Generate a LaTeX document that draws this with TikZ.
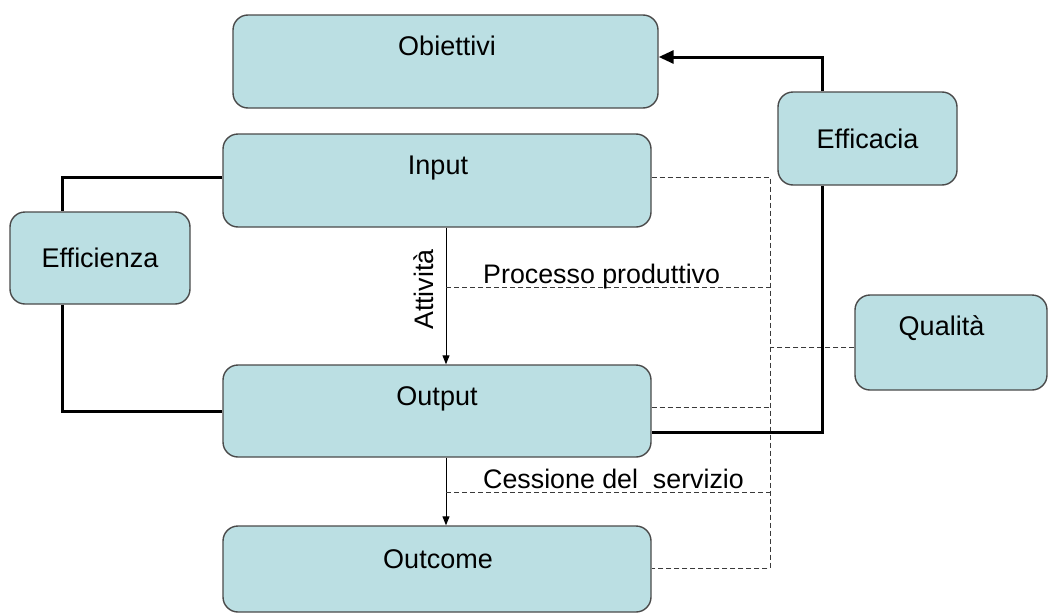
\documentclass[tikz,border=0pt]{standalone}
\usepackage{fontspec}
\setmainfont{Liberation Sans}
\usetikzlibrary{arrows.meta,calc}

\definecolor{boxfill}{HTML}{BBDFE3}
\definecolor{boxline}{HTML}{4A4A4A}
\definecolor{dashline}{HTML}{3A3A3A}

\tikzset{
  box/.style={draw=boxline, fill=boxfill, line width=1.4pt, rounded corners=15pt,
              inner sep=0pt, rectangle},
  txt/.style={font=\fontsize{27}{31}\selectfont, inner sep=0pt, anchor=base},
  smalltxt/.style={font=\fontsize{26.8}{31}\selectfont, inner sep=0pt, anchor=base west},
  strong/.style={line width=3pt, black},
  thin/.style={line width=1pt, black, -{Triangle[length=9pt,width=7pt]}},
  dsh/.style={line width=1pt, dashline, dash pattern=on 5pt off 3pt}
}

\begin{document}
\begin{tikzpicture}[x=1pt,y=-1pt]
\useasboundingbox (0,0) rectangle (1049,613);

% boxes
\node[box, minimum width=425pt, minimum height=93pt] (obj)  at (445.5,61.5)  {};
\node[box, minimum width=428pt, minimum height=93pt] (inp)  at (437,180.5)   {};
\node[box, minimum width=428pt, minimum height=92pt] (outp) at (437,411)     {};
\node[box, minimum width=428pt, minimum height=86pt] (outc) at (437,569)     {};
\node[box, minimum width=180pt, minimum height=92pt] (effz) at (100,258)     {};
\node[box, minimum width=179pt, minimum height=93pt] (effc) at (867.5,138.5) {};
\node[box, minimum width=192pt, minimum height=95pt] (qual) at (951,342.5)   {};

% box captions
\node[txt] (objT)  at (447,55)    {Obiettivi};
\node[txt] (inpT)  at (438,174)   {Input};
\node[txt] (outpT) at (437,405)   {Output};
\node[txt] (outcT) at (438,568)   {Outcome};
\node[txt] (effzT) at (100,267)   {Efficienza};
\node[txt] (effcT) at (867.5,148) {Efficacia};
\node[txt] (qualT) at (941.5,335) {Qualità};

% dashed bus on the right
\coordinate (busTop) at (770,177);
\coordinate (busBot) at (770,568);
\coordinate (procL)  at (446,287);
\coordinate (cessL)  at (446,492);

% thin flow arrows
\draw[thin] ([xshift=9pt]inp.south) -- ([xshift=9pt]outp.north);
\draw[thin] ([xshift=9pt]outp.south) -- ([xshift=9pt]outc.north);

% dashed connectors
\draw[dsh] ([yshift=3.5pt]inp.east) -- (busTop) -- (busBot) -- ([yshift=1pt]outc.east);
\draw[dsh] (procL) -- (procL -| busTop);
\draw[dsh] ([yshift=4pt]outp.east) -- ([yshift=4pt]outp.east -| busTop);
\draw[dsh] (cessL) -- (cessL -| busTop);
\draw[dsh] ([yshift=-4.5pt]qual.west) -- ([yshift=-4.5pt]qual.west -| busTop);

% thick connectors
\draw[strong] ([yshift=3.5pt]inp.west) -| ([xshift=-38pt]effz.north);
\draw[strong] ([xshift=-38pt]effz.south) |- (outp.west);
\draw[strong, -{Triangle[length=15pt,width=13pt]}] ([xshift=-45.5pt]effc.north) |- ([yshift=4.5pt]obj.east);
\draw[strong] ([xshift=-45.5pt]effc.south) |- ([yshift=-21pt]outp.east);

% connector labels
\node[smalltxt] (procT) at (483,283) {Processo produttivo};
\node[smalltxt] (cessT) at (483,488) {Cessione del\ \ servizio};
\node[smalltxt, rotate=90] (attT) at (433,330) {Attività};
\end{tikzpicture}
\end{document}
